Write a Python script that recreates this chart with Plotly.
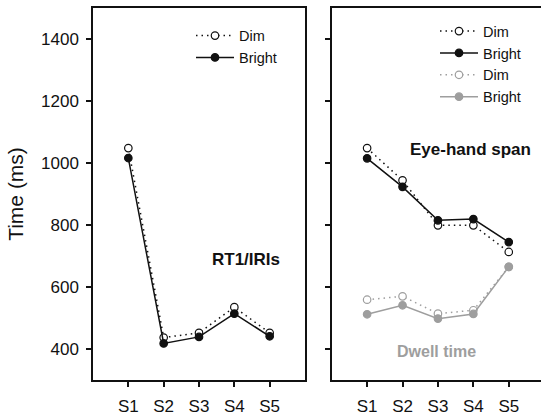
import plotly.graph_objects as go

sessions = ["S1", "S2", "S3", "S4", "S5"]
xpos = [1, 2, 3, 4, 5]

rt_dim = [1048, 437, 452, 535, 452]
rt_bright = [1016, 418, 439, 514, 441]

ehs_dim = [1048, 944, 799, 799, 713]
ehs_bright = [1015, 923, 815, 819, 745]

dwell_dim = [559, 570, 514, 525, 665]
dwell_bright = [512, 541, 498, 513, 665]

yticks = [400, 600, 800, 1000, 1200, 1400]

BLACK = "#111111"
GRAY = "#9e9e9e"
W = 541

fig = go.Figure()

def add(x, y, name, color, dim, xa, ya, legend):
    fig.add_trace(go.Scatter(
        x=x, y=y, name=name, mode="lines+markers",
        xaxis=xa, yaxis=ya, legend=legend,
        line=dict(color=color, width=1.5, dash="1.5px,4px" if dim else "solid"),
        marker=dict(size=7.5, color="white" if dim else color,
                    line=dict(color=color, width=1.2)),
    ))

add(xpos, rt_dim, "Dim", BLACK, True, "x", "y", "legend")
add(xpos, rt_bright, "Bright", BLACK, False, "x", "y", "legend")
add(xpos, ehs_dim, "Dim", BLACK, True, "x2", "y2", "legend2")
add(xpos, ehs_bright, "Bright", BLACK, False, "x2", "y2", "legend2")
add(xpos, dwell_dim, "Dim", GRAY, True, "x2", "y2", "legend2")
add(xpos, dwell_bright, "Bright", GRAY, False, "x2", "y2", "legend2")

axis_common = dict(showgrid=False, zeroline=False, linecolor=BLACK, linewidth=1.5,
                   ticks="outside", ticklen=5, tickwidth=1.5, tickcolor=BLACK,
                   tickfont=dict(family="Liberation Sans, Arial", size=17, color=BLACK))

fig.update_layout(
    width=W, height=416,
    margin=dict(l=0, r=0, t=8, b=36),
    plot_bgcolor="white", paper_bgcolor="white",
    font=dict(family="Liberation Sans, Arial", color=BLACK),
    xaxis=dict(domain=[93 / W, 305 / W], range=[0, 6], tickvals=xpos, ticktext=sessions,
               mirror=True, ticklabelstandoff=5, **axis_common),
    yaxis=dict(range=[300, 1500], tickvals=yticks, mirror=True,
               title=dict(text="Time (ms)", font=dict(size=21, color=BLACK), standoff=12),
               ticklabelstandoff=4, **axis_common),
    xaxis2=dict(domain=[331.7 / W, 1.0], range=[0, 5.91], tickvals=xpos, ticktext=sessions,
                mirror=True, ticklabelstandoff=5, anchor="y2", **axis_common),
    yaxis2=dict(range=[300, 1500], tickvals=yticks, showticklabels=False, anchor="x2",
                mirror=False, **axis_common),
    legend=dict(x=191 / W, y=1 - 13 / 416, xanchor="left", yanchor="top",
                bgcolor="rgba(0,0,0,0)", font=dict(size=14.5, color=BLACK),
                tracegroupgap=0, itemwidth=38),
    legend2=dict(x=435 / W, y=1 - 8 / 416, xanchor="left", yanchor="top",
                 bgcolor="rgba(0,0,0,0)", font=dict(size=14.5, color=BLACK),
                 tracegroupgap=0, itemwidth=38),
    showlegend=True,
)

fig.add_annotation(x=4.33, y=688, xref="x", yref="y", text="<b>RT1/IRIs</b>",
                   showarrow=False, font=dict(size=17, color=BLACK))
fig.add_annotation(x=3.91, y=1043, xref="x2", yref="y2", text="<b>Eye-hand span</b>",
                   showarrow=False, font=dict(size=17, color=BLACK))
fig.add_annotation(x=2.95, y=391, xref="x2", yref="y2", text="<b>Dwell time</b>",
                   showarrow=False, font=dict(size=16, color=GRAY))

fig.write_html("out.html")
